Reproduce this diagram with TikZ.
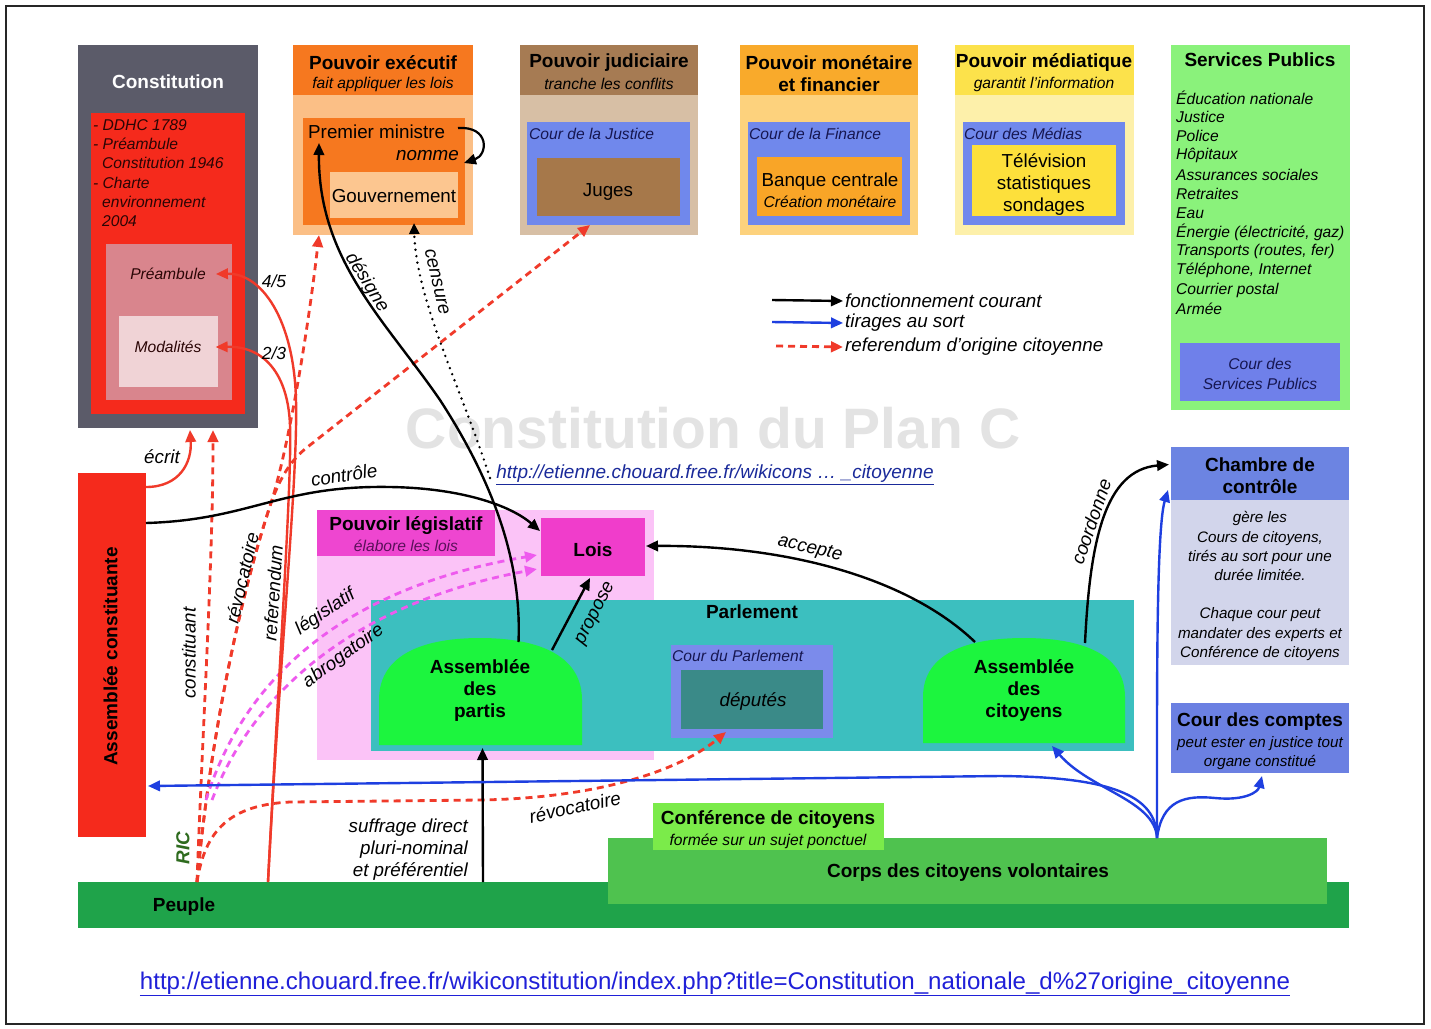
\documentclass[tikz,border=0pt]{standalone}
\usepackage{fontspec}
\setmainfont{Liberation Sans}
\usetikzlibrary{arrows.meta,fit,calc}

\definecolor{cgray}{HTML}{5B5B69}
\definecolor{cred}{HTML}{F52A1C}
\definecolor{cpream}{HTML}{D9858D}
\definecolor{cmodal}{HTML}{F0D3D6}
\definecolor{exhead}{HTML}{F6781F}
\definecolor{exbody}{HTML}{FBBF86}
\definecolor{exgouv}{HTML}{FCC690}
\definecolor{juhead}{HTML}{A67B53}
\definecolor{jubody}{HTML}{D7BFA5}
\definecolor{jujug}{HTML}{A6784A}
\definecolor{courblue}{HTML}{7088EC}
\definecolor{mohead}{HTML}{F9AA2B}
\definecolor{mobody}{HTML}{FDD27D}
\definecolor{mobank}{HTML}{F9A527}
\definecolor{mehead}{HTML}{FCE24B}
\definecolor{mebody}{HTML}{FDF0AA}
\definecolor{metele}{HTML}{FDE03B}
\definecolor{spgreen}{HTML}{8AF27B}
\definecolor{spcour}{HTML}{6F80EA}
\definecolor{lgbody}{HTML}{FBC3F7}
\definecolor{lghead}{HTML}{EE46D0}
\definecolor{lglois}{HTML}{F03DCB}
\definecolor{parlteal}{HTML}{3CBFBF}
\definecolor{asgreen}{HTML}{1CF53E}
\definecolor{cpblue}{HTML}{7B8BEB}
\definecolor{deput}{HTML}{3A8A88}
\definecolor{chhead}{HTML}{6C84E2}
\definecolor{chbody}{HTML}{D2D5EB}
\definecolor{ccblue}{HTML}{6B80E2}
\definecolor{peuplegreen}{HTML}{1FA34A}
\definecolor{corpsgreen}{HTML}{4FC24F}
\definecolor{confgreen}{HTML}{7BEB4A}
\definecolor{navy}{HTML}{161650}
\definecolor{lred}{HTML}{F03A2A}
\definecolor{lblue}{HTML}{1E3FE0}
\definecolor{lmag}{HTML}{EE5AEE}
\definecolor{wmark}{HTML}{E3E3E3}
\definecolor{urlblue}{HTML}{2020D8}
\definecolor{urldark}{HTML}{1A2A9A}
\definecolor{ricgreen}{HTML}{2E6B1E}
\definecolor{lgsub}{HTML}{5A105A}
\definecolor{redtxt}{HTML}{2A0505}

\begin{document}
\begin{tikzpicture}[x=1pt,y=-1pt,
  zone/.style={inner sep=0pt,outer sep=0pt,draw=none,fill=#1},
  hold/.style={inner sep=0pt,outer sep=0pt,draw=none},
  ttl/.style={inner sep=0pt,yshift=-1.5pt,font=\fontsize{19}{22}\selectfont\bfseries},
  sm/.style={inner sep=0pt,yshift=-1pt,font=\fontsize{15.6}{19.2}\selectfont\itshape},
  rg/.style={inner sep=0pt,yshift=-2.5pt,font=\fontsize{18.8}{22}\selectfont},
  lab/.style={inner sep=0pt,yshift=-1pt,font=\fontsize{18.8}{22}\selectfont\itshape},
  kline/.style={draw=black,line width=2.4pt,-{Triangle[length=12pt,width=10.5pt]}},
  rline/.style={draw=lred,line width=2.4pt,-{Triangle[length=12pt,width=10.5pt]}},
  rdash/.style={draw=lred,line width=2.8pt,dash pattern=on 7pt off 5pt,-{Triangle[length=12pt,width=10.5pt]}},
  mdash/.style={draw=lmag,line width=2.8pt,dash pattern=on 7pt off 5pt,-{Triangle[length=12pt,width=10.5pt]}},
  bline/.style={draw=lblue,line width=2.4pt,-{Triangle[length=12pt,width=10.5pt]}},
  kdot/.style={draw=black,line width=2.7pt,line cap=round,dash pattern=on 0pt off 6.5pt,-{Triangle[length=11pt,width=10pt]}}
]
\useasboundingbox (0,0) rectangle (1431,1028);
\fill[white] (0,0) rectangle (1431,1028);
\draw[line width=1.6pt,black!85] (6,6) rectangle (1424,1024);

% ---------- watermark ----------
\node[inner sep=0pt,font=\fontsize{57}{60}\selectfont\bfseries,text=wmark] (wm) at (713,428) {Constitution du Plan C};

% ---------- Constitution ----------
\node[zone=cgray,fit={(78,45)(258,428)}] (constg) {};
\node[ttl,text=white] (tconst) at (168,80) {Constitution};
\node[zone=cred,fit={(91,113)(245,414)}] (constr) {};
\foreach \t/\xx [count=\i] in {{- DDHC 1789}/93,{- Préambule}/93,{Constitution 1946}/102,{- Charte}/93,{environnement}/102,{2004}/102}
  \node[sm,text=redtxt,anchor=west] (cl\i) at (\xx,{124+19.2*(\i-1)}) {\t};
\node[zone=cpream,fit={(106,244)(232,400)}] (preamb) {};
\node[sm,text=redtxt] (tpream) at (168,273) {Préambule};
\node[zone=cmodal,fit={(119,316)(218,387)}] (modal) {};
\node[sm,text=redtxt] (tmodal) at (168,346) {Modalités};

% ---------- Pouvoir executif ----------
\node[zone=exbody,fit={(293,45)(473,235)}] (exb) {};
\node[zone=exhead,fit={(293,45)(473,95)}] (exh) {};
\node[ttl] (texh) at (383,61) {Pouvoir exécutif};
\node[sm] (texs) at (383,83) {fait appliquer les lois};
\node[zone=exhead,fit={(303,118)(465,225)}] (exi) {};
\node[rg,anchor=west] (tpm) at (308,129) {Premier ministre};
\node[lab,anchor=east,yshift=-1pt] (tnomme) at (459,154) {nomme};
\node[zone=exgouv,fit={(330,172)(458,218)}] (gouv) {};
\node[rg] (tgouv) at (394,194) {Gouvernement};

% ---------- Pouvoir judiciaire ----------
\node[zone=jubody,fit={(520,45)(698,235)}] (jub) {};
\node[zone=juhead,fit={(520,45)(698,95)}] (juh) {};
\node[ttl] (tjuh) at (609,61) {Pouvoir judiciaire};
\node[sm] (tjus) at (609,83) {tranche les conflits};
\node[zone=courblue,fit={(527,122)(690,225)}] (jc) {};
\node[sm,text=navy,anchor=west] (tjc) at (529,133) {Cour de la Justice};
\node[zone=jujug,fit={(537,158)(680,216)}] (juges) {};
\node[rg] (tjuges) at (608,189) {Juges};

% ---------- Pouvoir monetaire ----------
\node[zone=mobody,fit={(740,45)(918,235)}] (mob) {};
\node[zone=mohead,fit={(740,45)(918,95)}] (moh) {};
\node[ttl,align=center] (tmoh) at (829,72) {Pouvoir monétaire\\et financier};
\node[zone=courblue,fit={(748,122)(910,225)}] (mc) {};
\node[sm,text=navy,anchor=west] (tmc) at (749,133) {Cour de la Finance};
\node[zone=mobank,fit={(757,157)(902,216)}] (banque) {};
\node[rg] (tbanque) at (830,179) {Banque centrale};
\node[sm] (tcreat) at (830,201) {Création monétaire};

% ---------- Pouvoir mediatique ----------
\node[zone=mebody,fit={(955,45)(1134,235)}] (meb) {};
\node[zone=mehead,fit={(955,45)(1134,95)}] (meh) {};
\node[ttl] (tmeh) at (1044,61) {Pouvoir médiatique};
\node[sm] (tmes) at (1044,83) {garantit l'information};
\node[zone=courblue,fit={(963,122)(1125,225)}] (mec) {};
\node[sm,text=navy,anchor=west] (tmec) at (964,133) {Cour des Médias};
\node[zone=metele,fit={(972,145)(1116,216)}] (tele) {};
\node[rg,align=center] (ttele) at (1044,182) {Télévision\\statistiques\\sondages};

% ---------- Services publics ----------
\node[zone=spgreen,fit={(1171,45)(1350,410)}] (sp) {};
\node[ttl] (tsp) at (1260,58) {Services Publics};
\foreach \t [count=\i] in {Éducation nationale,Justice,Police,Hôpitaux,Assurances sociales,Retraites,Eau,{Énergie (électricité, gaz)},{Transports (routes, fer)},{Téléphone, Internet},Courrier postal,Armée}
  \node[sm,anchor=west] (sv\i) at (1176,{97+19.2*(\i-1)}) {\t};
\node[zone=spcour,fit={(1180,343)(1340,401)}] (csp) {};
\node[sm,text=navy,align=center,font=\fontsize{15.6}{20}\selectfont\itshape] (tcsp) at (1260,373) {Cour des\\Services Publics};

% ---------- Legend ----------
\node[lab,anchor=west] (lg1) at (845,300) {fonctionnement courant};
\node[lab,anchor=west] (lg2) at (845,322) {tirages au sort};
\node[lab,anchor=west] (lg3) at (845,346) {referendum d'origine citoyenne};
\coordinate (lga) at (772,300);
\coordinate (lgb) at (772,322);
\coordinate (lgc) at (776,346);

% ---------- URL middle ----------
\node[inner sep=0pt,font=\fontsize{19}{22}\selectfont\itshape,text=urldark] (url1) at (715,475) {\underline{http://etienne.chouard.free.fr/wikicons … \_citoyenne}};

% ---------- Assemblee constituante ----------
\node[zone=cred,fit={(78,473)(146,837)}] (ac) {};
\node[ttl,rotate=90,yshift=1.5pt] (tac) at (112,655) {Assemblée constituante};

% ---------- Pouvoir legislatif ----------
\node[zone=lgbody,fit={(317,510)(654,760)}] (lb) {};
\node[zone=lghead,fit={(317,510)(495,556)}] (lh) {};
\node[ttl] (tlh) at (406,524) {Pouvoir législatif};
\node[sm,text=lgsub] (tls) at (406,545) {élabore les lois};
\node[zone=lglois,fit={(541,518)(645,576)}] (lois) {};
\node[ttl] (tlois) at (593,548) {Lois};

% ---------- Parlement ----------
\node[zone=parlteal,fit={(371,600)(1134,751)}] (parl) {};
\node[ttl] (tparl) at (752,610) {Parlement};
\fill[asgreen] (379,745) -- (379,700) .. controls (379,652) and (428,638) .. (480,638) .. controls (532,638) and (582,652) .. (582,700) -- (582,745) -- cycle;
\node[hold,fit={(379,638)(582,745)}] (partis) {};
\node[ttl,align=center] (tpartis) at (480,689) {Assemblée\\des\\partis};
\node[zone=cpblue,fit={(671,645)(833,738)}] (courparl) {};
\node[sm,text=navy,anchor=west] (tcourparl) at (672,655) {Cour du Parlement};
\node[zone=deput,fit={(681,670)(823,729)}] (deputes) {};
\node[lab] (tdeputes) at (753,701) {députés};
\fill[asgreen] (923,743) -- (923,697) .. controls (923,651) and (972,638) .. (1024,638) .. controls (1076,638) and (1125,651) .. (1125,697) -- (1125,743) -- cycle;
\node[hold,fit={(923,638)(1125,743)}] (citoy) {};
\node[ttl,align=center] (tcitoy) at (1024,689) {Assemblée\\des\\citoyens};

% ---------- Chambre de controle ----------
\node[zone=chhead,fit={(1171,447)(1349,500)}] (chh) {};
\node[ttl,align=center] (tchh) at (1260,474) {Chambre de\\contrôle};
\node[zone=chbody,fit={(1171,500)(1349,665)}] (chb) {};
\node[sm,align=center,font=\fontsize{15.2}{19.2}\selectfont\itshape] (tchb) at (1260,585) {gère les\\Cours de citoyens,\\tirés au sort pour une\\durée limitée.\\[19.2pt]Chaque cour peut\\mandater des experts et\\Conférence de citoyens};

% ---------- Cour des comptes ----------
\node[zone=ccblue,fit={(1171,703)(1349,773)}] (cc) {};
\node[ttl] (tcc) at (1260,720) {Cour des comptes};
\node[sm,align=center,font=\fontsize{15.2}{19}\selectfont\itshape] (tccs) at (1260,752) {peut ester en justice tout\\organe constitué};

% ---------- Peuple / Corps / Conference ----------
\node[zone=peuplegreen,fit={(78,882)(1349,928)}] (peuple) {};
\node[ttl] (tpeuple) at (184,905) {Peuple};
\node[zone=corpsgreen,fit={(608,838)(1327,904)}] (corps) {};
\node[ttl] (tcorps) at (968,871) {Corps des citoyens volontaires};
\node[zone=confgreen,fit={(653,803)(884,850)}] (conf) {};
\node[ttl] (tconf) at (768,818) {Conférence de citoyens};
\node[sm] (tconfs) at (768,840) {formée sur un sujet ponctuel};

% ---------- bottom URL ----------
\node[inner sep=0pt,font=\fontsize{24.1}{26}\selectfont,text=urlblue] (url2) at (715,984) {\underline{http://etienne.chouard.free.fr/wikiconstitution/index.php?title=Constitution\_nationale\_d\%27origine\_citoyenne}};

% ---------- start coordinates ----------
\coordinate (ric) at ($(peuple.north west)+(119,0)$);
\coordinate (rf) at ($(peuple.north west)+(190,0)$);
\coordinate (sf) at ($(peuple.north west)+(405,0)$);
\coordinate (mg1) at (206,800);
\coordinate (mg2) at (212,800);
\coordinate (cs) at (490,478);
\coordinate (bs) at ($(corps.north west)+(549,0)$);

% ---------- red dashed (referendum citoyen) ----------
\draw[rdash] (ric) .. controls (203,720) and (213,560) .. ($(constg.south west)+(135,2)$);
\draw[rdash] (ric) .. controls (212,720) and (245,580) .. (272,500) .. controls (290,440) and (308,330) .. ($(exb.south west)+(26,0)$);
\draw[rdash] (ric) .. controls (212,720) and (245,580) .. (272,500) .. controls (282,475) and (290,462) .. (305,449) -- ($(jc.south west)+(63,0)$);
\draw[rdash] (ric) .. controls (205,830) and (230,805) .. (290,802) -- (480,800) .. controls (600,798) and (680,770) .. ($(courparl.south west)+(55,-6)$);

% ---------- magenta dashed ----------
\draw[mdash] (mg1) .. controls (240,690) and (330,590) .. ($(lois.west)+(-4,8)$);
\draw[mdash] (mg2) .. controls (250,700) and (345,605) .. ($(lois.west)+(-4,22)$);

% ---------- red solid ----------
\draw[rline] ($(ac.north east)+(0,14)$) .. controls (180,487) and (192,462) .. ($(constg.south west)+(112,2)$);
\draw[rline] (rf) .. controls (280,650) and (298,480) .. (296,400) .. controls (294,320) and (262,273) .. ($(tpream.east)+(10,0)$);
\draw[rline] (rf) .. controls (280,650) and (292,480) .. (290,425) .. controls (288,375) and (265,346) .. ($(tmodal.east)+(14,0)$);

% ---------- black ----------
\draw[kline] ($(ac.north east)+(0,50)$) .. controls (250,520) and (280,485) .. (390,487) .. controls (460,488) and (510,505) .. ($(lois.north west)+(-1,13)$);
\draw[kline] ($(partis.north)+(38,4)$) .. controls (522,560) and (492,480) .. (440,400) .. controls (385,320) and (318,260) .. ($(exi.north west)+(16,25)$);
\draw[kdot] (cs) .. controls (462,390) and (416,300) .. ($(gouv.south)+(20,5)$);
\draw[kline] ($(partis.north east)+(-30,12)$) -- ($(lois.south)+(-3,2)$);
\draw[kline] ($(citoy.north)+(-49,4)$) .. controls (905,575) and (780,545) .. ($(lois.east)+(1,-1)$);
\draw[kline] ($(citoy.north)+(61,5)$) .. controls (1090,540) and (1105,470) .. ($(chh.west)+(-2,-9)$);
\draw[kline] (sf) -- ($(partis.south)+(2,3)$);
\draw[kline,line width=2.2pt] ($(exi.north east)+(-7,10)$) .. controls (490,126) and (488,155) .. ($(exi.north east)+(-1,45)$);

% ---------- blue ----------
\draw[bline] (bs) .. controls (1157,795) and (1110,777) .. (1000,776) -- ($(ac.east)+(2,131)$);
\draw[bline] (bs) .. controls (1155,800) and (1090,790) .. ($(citoy.south)+(28,3)$);
\draw[bline] (bs) .. controls (1157,700) and (1156,530) .. ($(chb.north west)+(-3,-10)$);
\draw[bline] (bs) .. controls (1162,800) and (1185,795) .. (1215,798) .. controls (1245,801) and (1258,792) .. ($(cc.south)+(2,3)$);

% ---------- legend arrows ----------
\draw[kline] (lga) -- ($(lg1.west)+(-2,0)$);
\draw[bline] (lgb) -- ($(lg2.west)+(-2,0)$);
\draw[rdash] (lgc) -- ($(lg3.west)+(-2,0)$);

% ---------- labels ----------
\node[lab] (lecrit) at (162,456) {écrit};
\node[lab,rotate=90,yshift=1pt] (lconst) at (190,652) {constituant};
\node[inner sep=0pt,font=\fontsize{18.8}{22}\selectfont\bfseries\itshape,text=ricgreen,rotate=90] (lric) at (183,848) {RIC};
\node[lab,rotate=77,yshift=1pt] (lrevo1) at (243,577) {révocatoire};
\node[lab,rotate=86,yshift=1pt] (lref) at (274,592) {referendum};
\node[lab,font=\fontsize{17.5}{20}\selectfont\itshape] (l45) at (274,280) {4/5};
\node[lab,font=\fontsize{17.5}{20}\selectfont\itshape] (l23) at (274,352) {2/3};
\node[lab,rotate=9] (lctrl) at (344,474) {contrôle};
\node[lab,rotate=-58,yshift=1pt] (ldes) at (366,282) {désigne};
\node[lab,rotate=-77,yshift=1pt] (lcens) at (436,281) {censure};
\node[lab,rotate=34,yshift=1pt] (lleg) at (326,612) {législatif};
\node[lab,rotate=36,yshift=1pt] (labr) at (344,656) {abrogatoire};
\node[lab,rotate=63,yshift=1pt] (lprop) at (597,613) {propose};
\node[lab,rotate=-13] (lacc) at (810,548) {accepte};
\node[lab,rotate=71,yshift=1pt] (lcoord) at (1092,521) {coordonne};
\node[lab,align=right,anchor=east] (lsuff) at (468,849) {suffrage direct\\pluri-nominal\\et préférentiel};
\node[lab,rotate=12] (lrevo2) at (575,806) {révocatoire};
\end{tikzpicture}
\end{document}
